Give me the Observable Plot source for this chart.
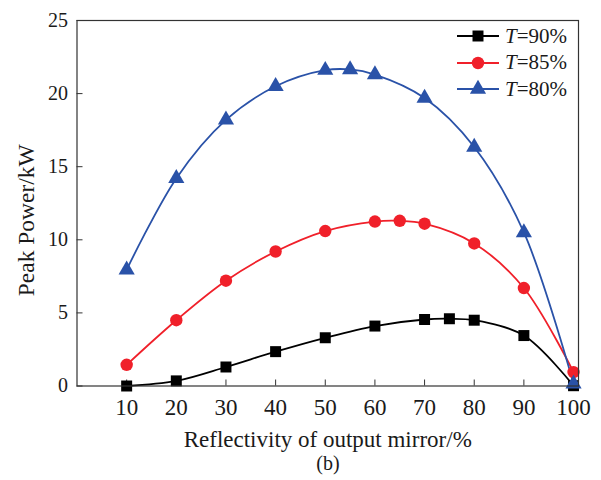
<!DOCTYPE html>
<html>
<head>
<meta charset="utf-8">
<script src="https://cdn.jsdelivr.net/npm/d3@7"></script>
<script src="https://cdn.jsdelivr.net/npm/@observablehq/plot@0.6"></script>
<style>
  body { margin: 0; background: #fff; }
  #wrap { position: relative; width: 601px; height: 480px; font-family: "Liberation Serif", "DejaVu Serif", serif; color: #1a1a1a; }
  #caption { position: absolute; left: 0; width: 601px; top: 453px; line-height: 20px; text-align: center; font-size: 20px; padding-left: 55px; box-sizing: border-box; }
  #legend { position: absolute; left: 456px; top: 23px; font-size: 21px; }
  .row { display: flex; align-items: center; height: 26.5px; }
  .row span { margin-left: 5px; }
</style>
</head>
<body>
<div id="wrap">
  <div id="chart"></div>
  <div id="legend"></div>
  <div id="caption">(b)</div>
</div>
<script>
const xTicks = [10, 20, 30, 40, 50, 60, 70, 80, 90, 100];
const yTicks = [0, 5, 10, 15, 20, 25];

const seriesNames = ["T=90%", "T=85%", "T=80%"];
const seriesColors = ["#000000", "#f0202a", "#2a52a8"];
const seriesSymbols = ["square", "circle", "triangle"];

const reflectivity90 = [10, 20, 30, 40, 50, 60, 70, 75, 80, 90, 100];
const power90 = [0.0, 0.35, 1.3, 2.35, 3.3, 4.1, 4.55, 4.6, 4.5, 3.45, 0.02];

const reflectivity85 = [10, 20, 30, 40, 50, 60, 65, 70, 80, 90, 100];
const power85 = [1.45, 4.5, 7.2, 9.2, 10.6, 11.25, 11.3, 11.1, 9.75, 6.7, 0.95];

const reflectivity80 = [10, 20, 30, 40, 50, 55, 60, 70, 80, 90, 100];
const power80 = [7.95, 14.2, 18.2, 20.5, 21.6, 21.65, 21.3, 19.7, 16.35, 10.5, 0.15];

const xs = [reflectivity90, reflectivity85, reflectivity80];
const ys = [power90, power85, power80];
const rows = [];
seriesNames.forEach((s, i) => xs[i].forEach((x, j) => rows.push({series: s, x, y: ys[i][j]})));

const sizes = {"T=90%": 6.2, "T=85%": 6.2, "T=80%": 6};

const marks = [];
seriesNames.forEach((s, i) => {
  const d = rows.filter(r => r.series === s);
  marks.push(Plot.line(d, {x: "x", y: "y", stroke: seriesColors[i], strokeWidth: 1.8, curve: "catmull-rom"}));
});
seriesNames.forEach((s, i) => {
  const d = rows.filter(r => r.series === s);
  marks.push(Plot.dot(d, {x: "x", y: "y", fill: seriesColors[i], stroke: "none", symbol: () => seriesSymbols[i], r: sizes[s]}));
});

const chart = Plot.plot({
  width: 601,
  height: 480,
  marginLeft: 76.5,
  marginRight: 23,
  marginTop: 20,
  marginBottom: 94.5,
  style: {fontFamily: "Liberation Serif, DejaVu Serif, serif", fontSize: "20px", color: "#1a1a1a", background: "#fff"},
  x: {domain: [0, 101]},
  y: {domain: [0, 25]},
  symbol: {type: "identity"},
  marks: [
    Plot.axisX({ticks: xTicks, tickSize: -6, tickPadding: 19, stroke: "#333", label: "Reflectivity of output mirror/%", labelAnchor: "center", labelOffset: 61, labelArrow: "none", fontSize: 23}),
    Plot.axisY({ticks: yTicks, tickSize: -6, tickPadding: 15, stroke: "#333", label: null}),
    Plot.text(["Peak Power/kW"], {frameAnchor: "left", rotate: -90, textAnchor: "middle", dx: -50.5, dy: 17, fontSize: 23.5, fill: "#1a1a1a"}),
    ...marks,
    Plot.frame({stroke: "#333", strokeWidth: 1.2})
  ]
});
document.getElementById("chart").appendChild(chart);

// legend
const legend = document.getElementById("legend");
seriesNames.forEach((s, i) => {
  const row = document.createElement("div");
  row.className = "row";
  const svg = d3.create("svg").attr("width", 44).attr("height", 20);
  svg.append("line").attr("x1", 1).attr("x2", 43).attr("y1", 10).attr("y2", 10).attr("stroke", seriesColors[i]).attr("stroke-width", 1.8);
  const r = sizes[s];
  svg.append("path").attr("transform", "translate(22,10)").attr("fill", seriesColors[i])
    .attr("d", d3.symbol(i === 0 ? d3.symbolSquare : i === 1 ? d3.symbolCircle : d3.symbolTriangle, Math.PI * r * r)());
  row.appendChild(svg.node());
  const t = document.createElement("span");
  const [a, b] = s.split("=");
  t.innerHTML = `<i>${a}</i>=${b}`;
  row.appendChild(t);
  legend.appendChild(row);
});
</script>
</body>
</html>
